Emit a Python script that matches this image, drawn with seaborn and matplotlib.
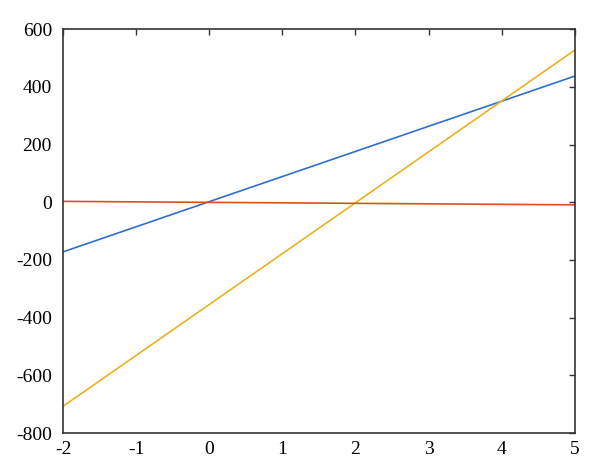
import matplotlib
matplotlib.use("Agg")
import matplotlib.pyplot as plt
import seaborn as sns
import pandas as pd

x_vals = [-2, 5]
blue_vals = [-172, 437]
orange_vals = [3, -9]
yellow_vals = [-707, 527]

x_ticks = [-2, -1, 0, 1, 2, 3, 4, 5]
y_ticks = [-800, -600, -400, -200, 0, 200, 400, 600]

sns.set_style("white")
plt.rcParams['font.family'] = ['Liberation Serif', 'DejaVu Serif']
plt.rcParams['axes.unicode_minus'] = False

df = pd.DataFrame({
    "x": x_vals * 3,
    "y": blue_vals + orange_vals + yellow_vals,
    "s": ["blue"] * 2 + ["orange"] * 2 + ["yellow"] * 2,
})
palette = {"blue": "#2F6FCB", "orange": "#D95319", "yellow": "#EDB120"}

fig = plt.figure(figsize=(6, 4.76), dpi=100)
ax = fig.add_axes([0.105, 0.09, 0.853, 0.849])
sns.lineplot(data=df, x="x", y="y", hue="s", palette=palette, ax=ax,
             legend=False, linewidth=1.2, hue_order=["blue", "yellow", "orange"])
ax.set_xlim(-2, 5)
ax.set_ylim(-800, 600)
ax.set_xticks(x_ticks)
ax.set_yticks(y_ticks)
ax.set_xlabel("")
ax.set_ylabel("")
ax.tick_params(direction="in", top=True, right=True, length=4, width=1,
               labelsize=14, color="#333333", labelcolor="black")
ax.tick_params(axis="y", pad=8)
ax.tick_params(axis="x", pad=6)
for sp in ax.spines.values():
    sp.set_color("#333333")
    sp.set_linewidth(1.2)
fig.savefig("out.png", dpi=100)
